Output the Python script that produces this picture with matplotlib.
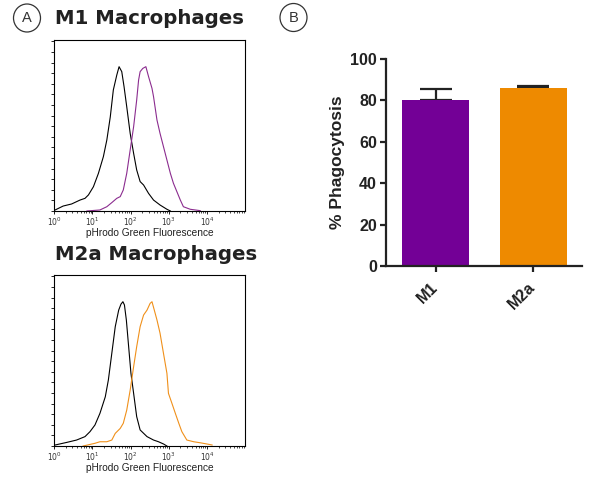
import matplotlib
matplotlib.use('Agg')
import matplotlib.pyplot as plt
from matplotlib.patches import Ellipse
from matplotlib.ticker import MultipleLocator, LogLocator, NullFormatter, FixedLocator
import numpy as np

# histogram traces: log10(fluorescence), % of axis height
m1_ctrl_log = [0.03, 0.24, 0.46, 0.68, 0.81, 0.90, 1.03, 1.16, 1.29, 1.38, 1.47, 1.55, 1.64, 1.70,
               1.77, 1.83, 1.90, 1.99, 2.08, 2.16, 2.25, 2.34, 2.47, 2.60, 2.77, 2.95, 3.04]
m1_ctrl_y = [0.6, 2.9, 4.1, 6.4, 7.4, 9.4, 14.2, 22.0, 31.8, 41.5, 55.0, 70.8, 79.5, 84.4,
             81.5, 72.7, 61.0, 45.4, 33.7, 24.0, 17.2, 15.2, 10.3, 6.4, 3.5, 1.0, 0.0]
m1_stain_log = [0.86, 1.20, 1.38, 1.51, 1.64, 1.73, 1.81, 1.90, 1.99, 2.08, 2.16, 2.21, 2.25, 2.32,
                2.40, 2.47, 2.56, 2.60, 2.69, 2.77, 2.86, 2.95, 3.04, 3.12, 3.21, 3.30, 3.38, 3.56, 3.82]
m1_stain_y = [0.0, 0.6, 2.5, 4.9, 7.4, 8.4, 12.3, 22.0, 35.7, 49.3, 64.9, 76.6, 81.5, 83.4,
              84.4, 78.6, 71.7, 66.9, 53.2, 45.4, 37.6, 29.8, 22.0, 16.2, 11.3, 6.4, 2.5, 1.0, 0.2]

m2_ctrl_log = [0.03, 0.33, 0.59, 0.81, 0.94, 1.07, 1.20, 1.34, 1.42, 1.51, 1.60, 1.69, 1.75, 1.80,
               1.84, 1.89, 1.95, 2.01, 2.08, 2.16, 2.25, 2.43, 2.60, 2.73, 2.86, 2.95]
m2_ctrl_y = [0.6, 2.1, 3.5, 5.5, 8.4, 12.3, 19.1, 28.8, 38.6, 54.2, 69.8, 79.5, 83.0, 84.4,
             82.5, 73.7, 58.1, 42.5, 30.8, 17.2, 9.4, 5.5, 3.5, 2.5, 1.2, 0.0]
m2_stain_log = [0.76, 1.07, 1.20, 1.38, 1.51, 1.60, 1.73, 1.81, 1.90, 1.99, 2.08, 2.16, 2.25, 2.34,
                2.43, 2.51, 2.56, 2.62, 2.69, 2.77, 2.86, 2.95, 2.99, 3.08, 3.17, 3.26, 3.34, 3.47,
                3.65, 3.82, 3.99, 4.13]
m2_stain_y = [0.0, 1.6, 2.5, 2.5, 3.5, 7.4, 10.3, 13.3, 21.0, 32.7, 46.4, 58.1, 69.8, 76.6,
              79.5, 83.4, 84.4, 79.5, 73.7, 66.0, 54.2, 42.5, 30.8, 25.0, 19.1, 13.3, 8.4, 3.5,
              2.5, 1.9, 1.2, 0.6]

# bar chart
groups = ['M1', 'M2a']
phago = [80.0, 85.9]
phago_err = [5.4, 0.9]
bar_colors = ['#730096', '#EE8A00']

W, H = 600, 478
fig = plt.figure(figsize=(6, 4.78), dpi=100, facecolor='white')
ARIAL = 'Liberation Sans'


def histo(rect, ctrl_log, ctrl_y, stain_log, stain_y, color):
    ax = fig.add_axes(rect)
    ax.plot(10 ** np.array(ctrl_log), ctrl_y, color='black', lw=0.8)
    ax.plot(10 ** np.array(stain_log), stain_y, color=color, lw=0.8)
    ax.set_xscale('log')
    ax.set_xlim(1, 10 ** 5)
    ax.set_ylim(0, 100)
    ax.xaxis.set_major_locator(FixedLocator([1, 10, 100, 1000, 10000]))
    ax.set_xticklabels([r'$10^{0}$', r'$10^{1}$', r'$10^{2}$', r'$10^{3}$', r'$10^{4}$'],
                       fontsize=5.5, color='#333333')
    ax.xaxis.set_minor_locator(LogLocator(base=10, subs=np.arange(2, 10), numticks=20))
    ax.xaxis.set_minor_formatter(NullFormatter())
    ax.yaxis.set_major_locator(MultipleLocator(6.2))
    ax.set_yticklabels([])
    ax.tick_params(axis='both', which='major', length=2, width=0.6, pad=1.5)
    ax.tick_params(axis='x', which='minor', length=1.5, width=0.5)
    for s in ax.spines.values():
        s.set_linewidth(0.8)
    ax.set_xlabel('pHrodo Green Fluorescence', fontsize=7.3, family=ARIAL,
                  labelpad=0, color='#222222')
    return ax


histo([0.090, 0.5586, 0.319, 0.3577], m1_ctrl_log, m1_ctrl_y, m1_stain_log, m1_stain_y, '#8B2C8F')
histo([0.090, 0.0669, 0.319, 0.3577], m2_ctrl_log, m2_ctrl_y, m2_stain_log, m2_stain_y, '#F0901A')

fig.text(55 / W, 1 - 19 / H, 'M1 Macrophages', fontsize=14.2, fontweight='bold',
         color='#222222', ha='left', va='center')
fig.text(55 / W, 1 - 254 / H, 'M2a Macrophages', fontsize=14.2, fontweight='bold',
         color='#222222', ha='left', va='center')

# circled panel letters
for x, y, s in [(27, 18, 'A'), (293.5, 17.5, 'B')]:
    fig.add_artist(Ellipse((x / W, 1 - y / H), 27 / W, 28 / H, transform=fig.transFigure,
                           fc='white', ec='#333333', lw=0.9))
    fig.text(x / W, 1 - y / H, s, fontsize=10.5, family=ARIAL, color='#333333',
             ha='center', va='center')

# bar chart
axb = fig.add_axes([0.6433, 0.4435, 0.3267, 0.4331])
xpos = np.arange(len(groups))
axb.bar(xpos, phago, width=0.69, color=bar_colors, zorder=2)
axb.errorbar(xpos, phago, yerr=[[0, 0], phago_err], fmt='none', ecolor='#222222',
             elinewidth=1.6, capsize=11.5, capthick=1.6, zorder=1)
axb.set_xlim(-0.51, 1.50)
axb.set_ylim(0, 100)
axb.set_yticks([0, 20, 40, 60, 80, 100])
axb.set_yticklabels(['0', '20', '40', '60', '80', '100'], fontsize=11.5, fontweight='bold',
                    family=ARIAL, color='#222222')
axb.set_xticks(xpos)
axb.set_xticklabels(groups, rotation=45, ha='right', va='center', rotation_mode='anchor',
                    fontsize=11.5, fontweight='bold', family=ARIAL, color='#222222')
axb.tick_params(axis='both', length=4.5, width=1.6, color='#222222', pad=2)
axb.tick_params(axis='x', pad=9)
axb.spines['top'].set_visible(False)
axb.spines['right'].set_visible(False)
for s in ['left', 'bottom']:
    axb.spines[s].set_linewidth(1.6)
    axb.spines[s].set_color('#222222')
axb.set_ylabel('% Phagocytosis', fontsize=12.5, fontweight='bold', family=ARIAL,
               color='#222222', labelpad=4)

plt.savefig('out.png', dpi=100)
